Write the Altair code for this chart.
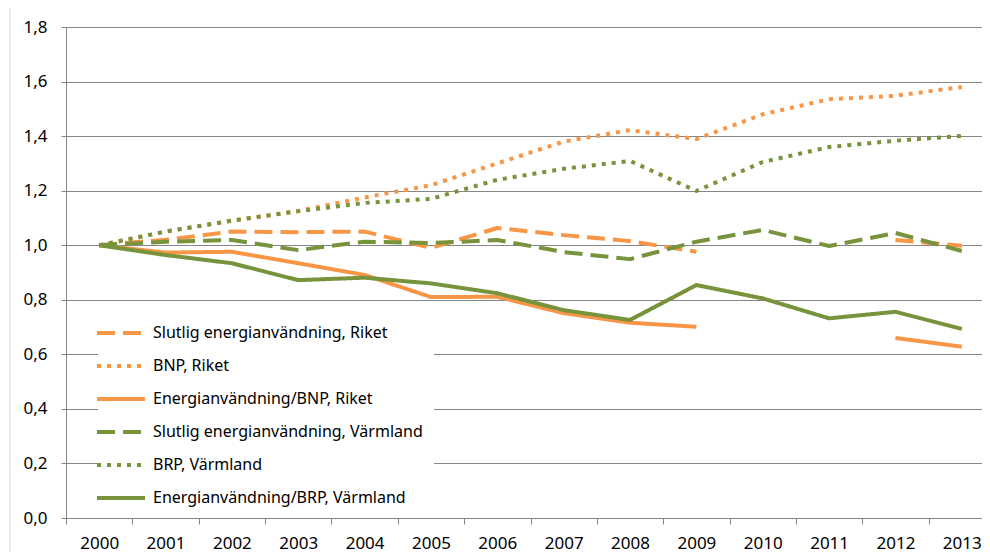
import altair as alt
import pandas as pd

years = [str(y) for y in range(2000, 2014)]

series_names = [
    "Slutlig energianvändning, Riket",
    "BNP, Riket",
    "Energianvändning/BNP, Riket",
    "Slutlig energianvändning, Värmland",
    "BRP, Värmland",
    "Energianvändning/BRP, Värmland",
]

slutlig_riket = [1.00, 1.02, 1.05, 1.048, 1.05, 0.99, 1.063, 1.037, 1.015, 0.976, None, None, 1.019, 0.998]
bnp_riket = [1.00, 1.05, 1.09, 1.125, 1.175, 1.22, 1.30, 1.38, 1.422, 1.389, 1.48, 1.535, 1.548, 1.58]
energi_bnp_riket = [1.00, 0.973, 0.976, 0.934, 0.891, 0.81, 0.811, 0.751, 0.716, 0.701, None, None, 0.66, 0.628]
slutlig_varmland = [1.00, 1.013, 1.019, 0.982, 1.013, 1.008, 1.019, 0.975, 0.949, 1.013, 1.056, 0.997, 1.045, 0.979]
brp_varmland = [1.00, 1.05, 1.09, 1.125, 1.155, 1.17, 1.24, 1.28, 1.309, 1.199, 1.305, 1.36, 1.383, 1.401]
energi_brp_varmland = [1.00, 0.964, 0.934, 0.872, 0.881, 0.86, 0.824, 0.762, 0.726, 0.854, 0.805, 0.732, 0.756, 0.693]

all_values = [slutlig_riket, bnp_riket, energi_bnp_riket, slutlig_varmland, brp_varmland, energi_brp_varmland]

y_ticks = [0.0, 0.2, 0.4, 0.6, 0.8, 1.0, 1.2, 1.4, 1.6, 1.8]

ORANGE = "#F79646"
GREEN = "#77933C"
colors = [ORANGE, ORANGE, ORANGE, GREEN, GREEN, GREEN]
dashes = [[18, 8], [4, 6], [1, 0], [18, 8], [4, 6], [1, 0]]

rows = []
for name, vals in zip(series_names, all_values):
    for yr, v in zip(years, vals):
        rows.append({"year": yr, "value": v, "series": name})
df = pd.DataFrame(rows)

FONT = "Noto Sans"

legend = alt.Legend(
    title=None, orient="none", legendX=32, legendY=283,
    symbolType="M-2.4,0H2.4", symbolSize=400, symbolStrokeWidth=4,
    labelFontSize=16, labelColor="#000000", labelFont=FONT, labelLimit=400,
    rowPadding=13, labelOffset=20, padding=11, fillColor="white",
)

lines = alt.Chart(df).mark_line(strokeWidth=4, strokeCap="butt", strokeJoin="round").encode(
    x=alt.X(
        "year:O",
        bandPosition=0.5,
        scale=alt.Scale(type="band", domain=years, paddingInner=0, paddingOuter=0, range=[0, 929]),
        axis=alt.Axis(
            title=None, labelAngle=0, tickBand="extent", grid=False,
            domainColor="#868686", tickColor="#868686", tickSize=6,
            labelFontSize=17, labelColor="#000000", labelPadding=11, labelFont=FONT,
        ),
    ),
    y=alt.Y(
        "value:Q",
        scale=alt.Scale(domain=[0, 1.8], nice=False, zero=True),
        axis=alt.Axis(
            title=None, values=y_ticks,
            labelExpr="replace(format(datum.value, '.1f'), '.', ',')",
            domainColor="#868686", tickColor="#868686", tickSize=5,
            gridColor="#868686", gridWidth=1,
            labelFontSize=17, labelColor="#000000", labelPadding=14, labelFont=FONT,
        ),
    ),
    color=alt.Color(
        "series:N",
        scale=alt.Scale(domain=series_names, range=colors),
        legend=legend,
    ),
    strokeDash=alt.StrokeDash(
        "series:N",
        scale=alt.Scale(domain=series_names, range=dashes),
        legend=legend,
    ),
)

border = alt.Chart(pd.DataFrame({"b": [0]})).mark_rule(color="#d9d9d9", strokeWidth=1).encode(
    x=alt.value(-56), y=alt.value(-19), y2=alt.value(540)
)

chart = alt.layer(lines, border).properties(
    width=916,
    height=491,
    autosize=alt.AutoSizeParams(type="none"),
    padding={"left": 58, "top": 19, "right": 0, "bottom": 34},
).configure_view(stroke=None).configure(background="white")

chart.save("out.html", embed_options={"renderer": "svg", "actions": False})
